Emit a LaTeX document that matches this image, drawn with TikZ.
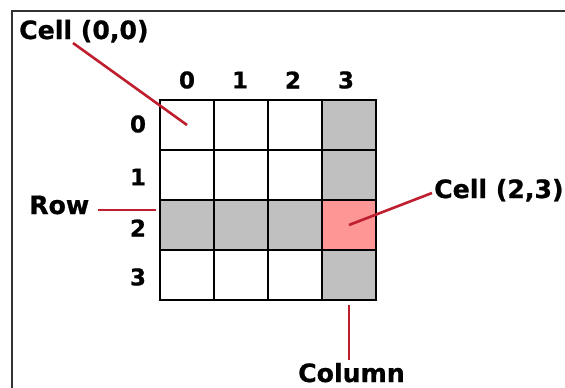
\documentclass[tikz,border=0pt]{standalone}
\usepackage{fontspec}
\setmainfont[BoldFeatures={FakeBold=0.8}]{DejaVu Sans}
\definecolor{conncol}{RGB}{190,30,45}
\definecolor{graycell}{RGB}{192,192,192}
\definecolor{redcell}{RGB}{255,150,150}
\definecolor{framecol}{RGB}{50,50,50}
\tikzset{
  cell/.style={draw=black, line width=1.4pt, minimum width=54pt, minimum height=50pt, inner sep=0pt, outer sep=0pt},
  graybox/.style={cell, fill=graycell},
  redbox/.style={cell, fill=redcell},
  lbl/.style={font=\bfseries\fontsize{25.2}{26}\selectfont, inner sep=0pt, anchor=base west},
  idx/.style={font=\bfseries\fontsize{23}{23}\selectfont, inner sep=0pt},
  conn/.style={draw=conncol, line width=2.6pt}
}
\begin{document}
\begin{tikzpicture}[x=1pt,y=-1pt]
\useasboundingbox (0,0) rectangle (565,388);
\fill[white] (0,0) rectangle (565,388);
\draw[framecol, line width=1.8pt] (12,388) -- (12,11) -- (565,11);
% cells
\foreach \i in {0,1,3} {
  \foreach \j in {0,1,2} {
    \node[cell] (c\i\j) at ({187+54*\j},{125+50*\i}) {};
  }
}
\foreach \j in {0,1,2} {
  \node[graybox] (c2\j) at ({187+54*\j},225) {};
}
\foreach \i in {0,1,3} {
  \node[graybox] (c\i3) at (349,{125+50*\i}) {};
}
\node[redbox] (c23) at (349,225) {};
% indices
\node[idx] (h0) at (187,80) {0};
\node[idx] (h1) at (240,80) {1};
\node[idx] (h2) at (293,80) {2};
\node[idx] (h3) at (346,80) {3};
\node[idx] (r0) at (138,124) {0};
\node[idx] (r1) at (138,177) {1};
\node[idx] (r2) at (138,228) {2};
\node[idx] (r3) at (138,277) {3};
% labels
\node[lbl] (l00) at (19,39) {Cell (0,0)};
\node[lbl] (lrow) at (29,214) {Row};
\node[lbl] (l23) at (434,198) {Cell (2,3)};
\node[lbl] (lcol) at (298,382) {Column};
% connectors
\coordinate (s00) at (73,43);
\coordinate (srow) at (98,210);
\coordinate (erow) at (156,210);
\coordinate (s23) at (432,193);
\coordinate (scol) at (349,360);
\draw[conn] (s00) -- (c00.center);
\draw[conn] (srow) -- (erow);
\draw[conn] (s23) -- (c23.center);
\draw[conn] (scol) -- ([yshift=-5pt]c33.south);
\end{tikzpicture}
\end{document}
